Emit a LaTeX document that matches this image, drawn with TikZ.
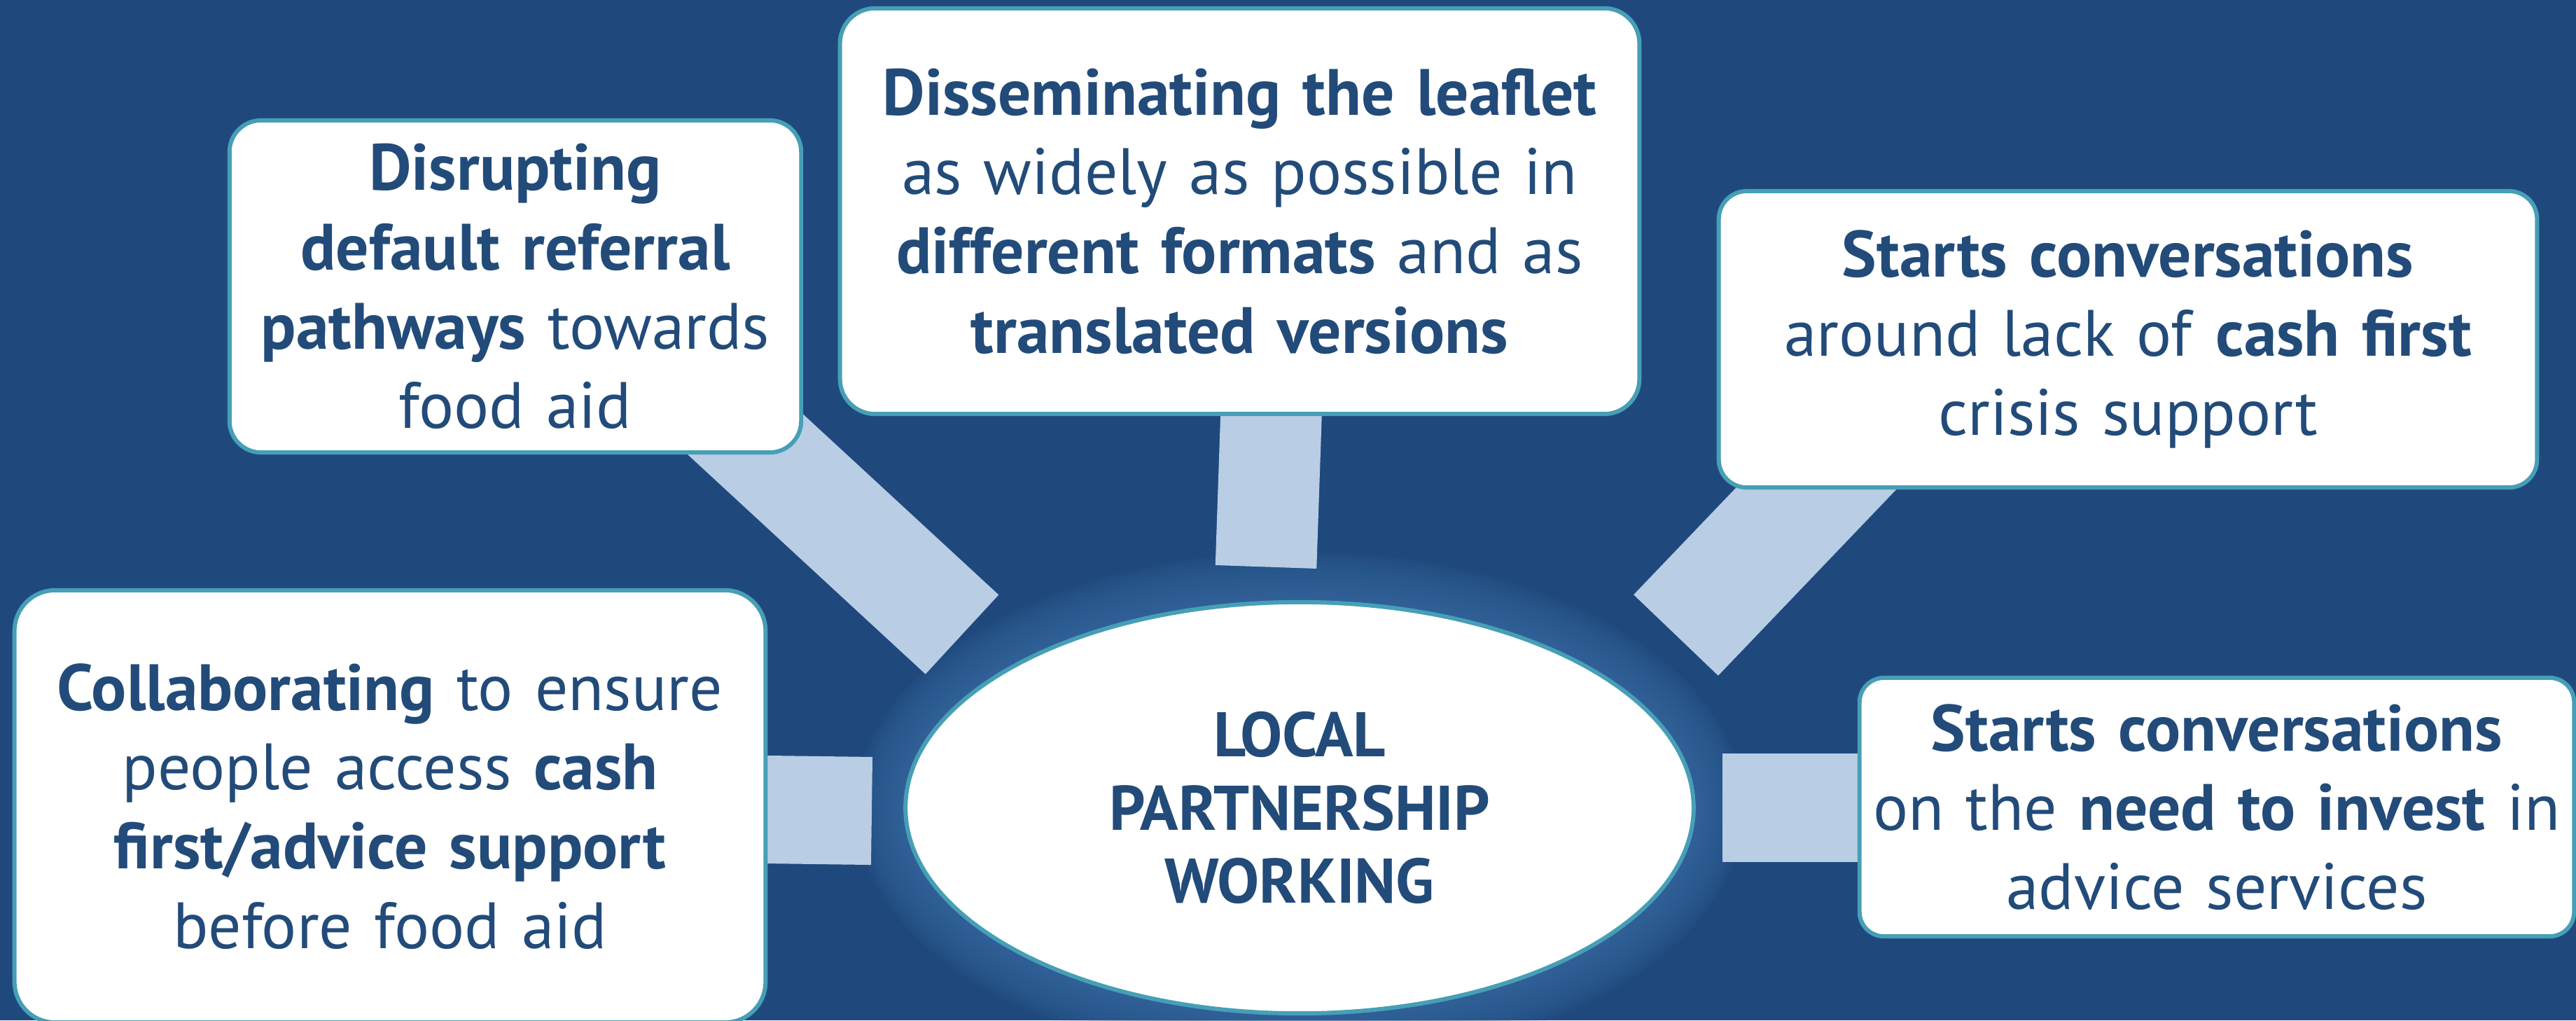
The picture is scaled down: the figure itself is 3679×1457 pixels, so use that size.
\documentclass[tikz,border=0pt]{standalone}
\usepackage{fontspec}
\setmainfont{PT Sans}
\definecolor{bgblue}{HTML}{1F497D}
\definecolor{glow}{HTML}{3A6CA5}
\definecolor{barblue}{HTML}{B9CDE5}
\definecolor{edge}{HTML}{469FB6}
\definecolor{ink}{HTML}{224B79}
\newcommand\boxfont{\fontsize{26.6}{32.2}\selectfont}
\newcommand\hubfont{\fontsize{25.6}{29.8}\selectfont\bfseries}
\tikzset{
  box/.style={draw=edge, line width=1.7pt, fill=white, rounded corners=#1,
    inner sep=0pt, align=center, text=ink, font=\boxfont},
  hub/.style={ellipse, draw=edge, line width=1.7pt, fill=white, inner sep=0pt,
    align=center, text=ink, font=\hubfont},
  bar/.style={draw=barblue, line width=#1, line cap=butt},
}
\usetikzlibrary{shapes.geometric}
\begin{document}
\begin{tikzpicture}[x=0.01cm, y=-0.01cm]
  % canvas
  \fill[bgblue] (0,0) rectangle (3679,1457);
  \useasboundingbox (0,0) rectangle (3679,1457);

  % soft halo around the hub
  \foreach \i in {1,...,16}
    \fill[glow, opacity=0.085] (1856,1153.5) ellipse [x radius={5.625cm+\i*0.045cm}, y radius={2.935cm+\i*0.045cm}];

  % connector ends: inside each box and just short of the hub
  \coordinate (s1) at (970,533);    \coordinate (e1) at (1374,906);
  \coordinate (s2) at (1820,460);   \coordinate (e2) at (1808,809.5);
  \coordinate (s3) at (2738,547);   \coordinate (e3) at (2393.5,907);
  \coordinate (s4) at (900,1153.4); \coordinate (e4) at (1245,1158);
  \coordinate (s5) at (2900,1153.5);\coordinate (e5) at (2460,1153.5);

  \draw[bar=1.54cm] (s1) -- (e1);
  \draw[bar=1.445cm] (s2) -- (e2);
  \draw[bar=1.67cm] (s3) -- (e3);
  \draw[bar=1.54cm] (s4) -- (e4);
  \draw[bar=1.55cm] (s5) -- (e5);

  % hub
  \node[hub, minimum width=11.25cm, minimum height=5.87cm] (hub) at (1856,1153.5)
    {LOCAL\\PARTNERSHIP\\WORKING};

  % text boxes
  \node[box=0.45cm, minimum width=8.16cm, text width=8.16cm, minimum height=4.74cm] (b1) at (736,409)
    {\textbf{Disrupting}\\\textbf{default referral}\\\textbf{pathways} towards\\food aid};
  \node[box=0.5cm, minimum width=11.41cm, text width=11.41cm, minimum height=5.79cm] (b2) at (1770.5,301.5)
    {\textbf{Disseminating the leaflet}\\as widely as possible in\\\textbf{different formats} and as\\\textbf{translated versions}};
  \node[box=0.4cm, minimum width=11.68cm, text width=11.68cm, minimum height=4.23cm] (b3) at (3039,484.5)
    {\textbf{Starts conversations}\\around lack of \textbf{cash first}\\crisis support};
  \node[box=0.58cm, minimum width=10.72cm, text width=10.72cm, minimum height=6.17cm] (b4) at (557,1151.5)
    {\textbf{Collaborating} to ensure\\people access \textbf{cash}\\\textbf{first/advice support}\\before food aid};
  \node[box=0.35cm, minimum width=10.2cm, text width=10.2cm, minimum height=3.69cm] (b5) at (3166,1152.5)
    {\textbf{Starts conversations}\\on the \textbf{need to invest} in\\advice services};
\end{tikzpicture}
\end{document}
